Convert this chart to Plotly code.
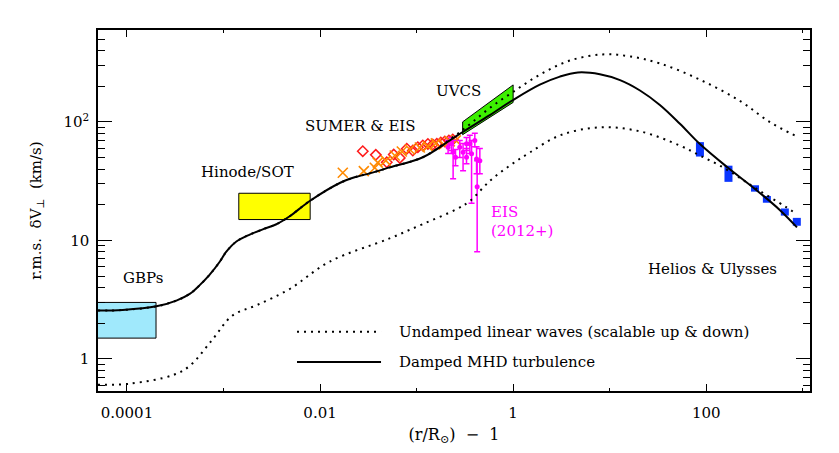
'''
    Velocity amplitude of transverse waves versus height in the corona and wind.
'''
import plotly.graph_objects as go

FONT = "DejaVu Serif"

# Damped MHD turbulence model (solid curve)
model_x = [5.0e-5, 9.05e-5, 2.02e-4, 3.25e-4, 4.47e-4, 5.64e-4, 7.16e-4, 9.14e-4,
           1.07e-3, 1.36e-3, 1.87e-3, 2.55e-3, 3.53e-3, 4.85e-3, 7.82e-3, 0.016,
           0.0234, 0.0327, 0.0527, 0.116, 0.221, 0.301, 0.573, 1.0, 1.89, 3.05,
           4.68, 7.91, 12.8, 20.6, 33.1, 53.4, 86.1, 168, 320, 581, 871]
model_y = [2.56, 2.59, 2.78, 3.11, 3.54, 4.18, 5.12, 6.61,
           8.04, 9.79, 11.2, 12.4, 13.7, 16.0, 21.5, 30.5,
           34.3, 36.8, 41.3, 50.3, 69.8, 82.2, 114, 153, 206, 241,
           261, 252, 225, 184, 139, 96.5, 65.0, 41.0, 27.2, 18.0, 12.9]

# Undamped linear waves, upper and lower normalisation (dotted curves)
upper_x = [5.0e-5, 9.05e-5, 2.02e-4, 3.25e-4, 4.47e-4, 5.64e-4, 7.16e-4, 9.14e-4,
           1.07e-3, 1.36e-3, 1.87e-3, 2.55e-3, 3.53e-3, 4.85e-3, 7.82e-3, 0.016,
           0.0234, 0.0327, 0.0527, 0.116, 0.221, 0.356, 0.573, 1.0, 1.89, 3.87,
           8.51, 16.2, 33.2, 86.1, 224, 458, 871]
upper_y = [2.56, 2.59, 2.78, 3.11, 3.54, 4.18, 5.12, 6.61,
           8.04, 9.79, 11.2, 12.4, 13.7, 16.0, 21.5, 30.5,
           34.3, 36.8, 41.3, 50.3, 71.1, 95.5, 131, 179, 250, 329,
           371, 357, 311, 227, 150, 99.4, 75.3]
lower_x = [5.0e-5, 1.07e-4, 2.99e-4, 4.45e-4, 7.69e-4, 1.24e-3, 2.2e-3, 4.83e-3,
           0.0125, 0.0525, 0.115, 0.261, 0.356, 0.574, 0.925, 1.49, 3.05, 7.91,
           20.6, 53.3, 86.1, 139, 223, 360, 653, 871]
lower_y = [0.605, 0.619, 0.731, 0.873, 1.46, 2.33, 2.84, 3.89,
           6.61, 10.4, 13.7, 18.4, 21.5, 31.8, 42.8, 55.2, 76.9, 90.0,
           83.2, 63.2, 52.0, 42.7, 33.7, 26.1, 19.4, 16.6]

# Observational ranges drawn as boxes
gbp_x = [3.0e-5, 2.0e-4]
gbp_y = [1.5, 3.0]
sot_x = [1.44e-3, 7.9e-3]
sot_y = [15, 25]
uvcs_x = [0.30, 1.0]
uvcs_lo = [78, 146]
uvcs_hi = [100, 205]

# SUMER & EIS line widths
sumer_x = [0.0172, 0.0284, 0.0369, 0.0396, 0.048, 0.0594, 0.0703, 0.0851,
           0.108, 0.131, 0.158, 0.191, 0.221, 0.255]
sumer_y = [37.2, 38.4, 41.0, 45.3, 47.1, 52.0, 56.2, 58.5,
           60.8, 62.1, 65.8, 64.5, 68.4, 69.8]
eis_old_x = [0.0277, 0.0378, 0.0491, 0.058, 0.067, 0.0791, 0.0914, 0.103,
             0.116, 0.131, 0.147, 0.162, 0.178, 0.196, 0.216, 0.237]
eis_old_y = [56.6, 52.7, 45.6, 53.0, 49.7, 59.3, 57.4, 61.2,
             63.3, 65.2, 64.5, 65.4, 67.1, 68.4, 69.8, 71.1]

# EIS (2012+) with error ranges
eis_x = [0.212, 0.230, 0.239, 0.253, 0.280, 0.303, 0.329, 0.329,
         0.356, 0.371, 0.401, 0.418, 0.424, 0.452]
eis_y = [61.2, 65.4, 55.5, 50.3, 61.2, 55.5, 50.3, 65.4,
         65.4, 53.8, 69.8, 48.7, 28.3, 47.1]
eis_hi = [69.8, 74.0, 69.8, 58.5, 69.8, 65.8, 59.7, 74.0,
          77.0, 69.8, 80.1, 61.6, 47.1, 59.7]
eis_lo = [54.1, 57.4, 33.1, 42.7, 50.0, 38.7, 44.4, 57.4,
          54.1, 20.6, 61.6, 36.5, 8.04, 36.5]

# Helios & Ulysses ranges
helios_x = [86.1, 170, 320, 425, 652, 868]
helios_lo = [51.0, 31.2, 25.8, 20.8, 16.2, 13.3]
helios_hi = [67.5, 42.7, 29.2, 23.7, 18.6, 15.5]

x_tickvals = [1e-4, 1e-2, 1, 100]
x_ticktext = ["0.0001", "0.01", "1", "100"]
x_minorvals = [1e-3, 0.1, 10, 1000]
y_tickvals = [1, 10, 100]
y_ticktext = ["1", "10", "10<sup>2</sup>"]
y_minorvals = [0.6, 0.7, 0.8, 0.9, 2, 3, 4, 5, 6, 7, 8, 9,
               20, 30, 40, 50, 60, 70, 80, 90, 200, 300, 400, 500]


def box_trace(xs, ys, color):
    '''
        Filled rectangle spanning the given x and y ranges.
    '''
    return go.Scatter(
        x=[xs[0], xs[1], xs[1], xs[0], xs[0]],
        y=[ys[0], ys[0], ys[1], ys[1], ys[0]],
        mode="lines", fill="toself", fillcolor=color,
        line=dict(color="black", width=1), hoverinfo="skip")


fig = go.Figure()

fig.add_trace(box_trace(gbp_x, gbp_y, "#a0e9fc"))
fig.add_trace(box_trace(sot_x, sot_y, "#ffff00"))
fig.add_trace(go.Scatter(
    x=uvcs_x + uvcs_x[::-1] + uvcs_x[:1],
    y=uvcs_lo + uvcs_hi[::-1] + uvcs_lo[:1],
    mode="lines", fill="toself", fillcolor="#3cf000",
    line=dict(color="black", width=1)))

fig.add_trace(go.Scatter(
    x=eis_old_x, y=eis_old_y, mode="markers",
    marker=dict(symbol="diamond-open", size=8, color="#ff1a1a",
                line=dict(width=1.5, color="#ff1a1a"))))
fig.add_trace(go.Scatter(
    x=sumer_x, y=sumer_y, mode="markers",
    marker=dict(symbol="x-thin", size=10, color="#ff8a00",
                line=dict(width=1.6, color="#ff8a00"))))

fig.add_trace(go.Scatter(
    x=eis_x, y=eis_y, mode="markers",
    marker=dict(symbol="circle", size=5, color="#ff00ff"),
    error_y=dict(type="data", symmetric=False,
                 array=[h - v for h, v in zip(eis_hi, eis_y)],
                 arrayminus=[v - l for v, l in zip(eis_y, eis_lo)],
                 color="#ff00ff", thickness=1.5, width=3)))

helios_mid = [(lo * hi) ** 0.5 for lo, hi in zip(helios_lo, helios_hi)]
fig.add_trace(go.Scatter(
    x=helios_x, y=helios_mid, mode="markers",
    marker=dict(symbol="square", size=1, color="#0a35ff"),
    error_y=dict(type="data", symmetric=False,
                 array=[h - m for h, m in zip(helios_hi, helios_mid)],
                 arrayminus=[m - l for m, l in zip(helios_mid, helios_lo)],
                 color="#0a35ff", thickness=8, width=0)))

dotted = dict(color="black", width=2, dash="2px,5px")
fig.add_trace(go.Scatter(x=upper_x, y=upper_y, mode="lines",
                         line=dict(shape="spline", **dotted)))
fig.add_trace(go.Scatter(x=lower_x, y=lower_y, mode="lines",
                         line=dict(shape="spline", **dotted)))
fig.add_trace(go.Scatter(x=model_x, y=model_y, mode="lines",
                         line=dict(color="black", width=2, shape="spline")))

# legend drawn by hand so the samples are as long as in the original
fig.add_shape(type="line", xref="paper", yref="paper",
              x0=0.2795, x1=0.3975, y0=0.1639, y1=0.1639,
              line=dotted)
fig.add_shape(type="line", xref="paper", yref="paper",
              x0=0.2795, x1=0.3975, y0=0.0806, y1=0.0806,
              line=dict(color="black", width=2))

labels = [
    ("GBPs", 0.0632, 0.3139, "center", "black"),
    ("Hinode/SOT", 0.21, 0.6056, "center", "black"),
    ("SUMER & EIS", 0.368, 0.7333, "center", "black"),
    ("UVCS", 0.507, 0.8306, "center", "black"),
    ("EIS", 0.549, 0.4953, "left", "#ff00ff"),
    ("(2012+)", 0.549, 0.4431, "left", "#ff00ff"),
    ("Helios & Ulysses", 0.8624, 0.3389, "center", "black"),
    ("Undamped linear waves (scalable up & down)", 0.42, 0.1639, "left", "black"),
    ("Damped MHD turbulence", 0.42, 0.0806, "left", "black"),
]
for text, x, y, anchor, color in labels:
    fig.add_annotation(text=text, x=x, y=y, xref="paper", yref="paper",
                       xanchor=anchor, yanchor="middle", showarrow=False,
                       font=dict(family=FONT, size=15, color=color))

axis_common = dict(
    type="log", showgrid=False, zeroline=False,
    showline=True, linecolor="black", linewidth=1.5, mirror="allticks",
    ticks="inside", tickcolor="black", tickwidth=1.2,
    tickfont=dict(family=FONT, size=15, color="black"),
)

# the page body has an 8px margin, so the figure is 8px smaller on each side
fig.update_layout(
    width=831, height=445,
    margin=dict(l=90, r=29, t=22, b=55),
    paper_bgcolor="white", plot_bgcolor="white",
    showlegend=False,
    font=dict(family=FONT, size=15, color="black"),
    xaxis=dict(
        range=[-4.30, 3.075], tickmode="array",
        tickvals=x_tickvals, ticktext=x_ticktext, ticklen=7,
        ticklabelstandoff=7,
        minor=dict(tickmode="array", tickvals=x_minorvals, ticks="inside",
                   ticklen=3, tickcolor="black", tickwidth=1.2),
        title=dict(text="(r/R<sub>⊙</sub>)\u00a0\u00a0\u2212\u00a0\u00a01",
                   standoff=8, font=dict(family=FONT, size=16)),
        **axis_common),
    yaxis=dict(
        range=[-0.27, 2.775], tickmode="array",
        tickvals=y_tickvals, ticktext=y_ticktext, ticklen=14,
        ticklabelstandoff=4,
        minor=dict(tickmode="array", tickvals=y_minorvals, ticks="inside",
                   ticklen=7, tickcolor="black", tickwidth=1.2),
        title=dict(text="r.m.s.\u00a0\u00a0δV<sub>⊥</sub>\u00a0\u00a0(km/s)",
                   standoff=18, font=dict(family=FONT, size=15)),
        **axis_common),
)

fig.write_html("out.html")
